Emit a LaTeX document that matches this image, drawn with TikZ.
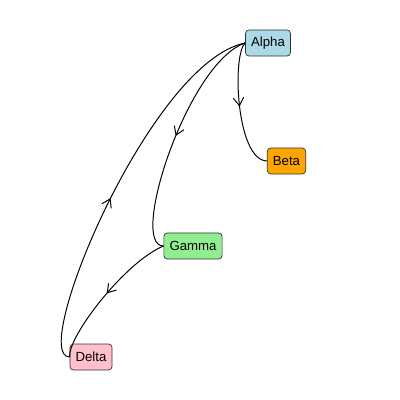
\documentclass[tikz,border=0pt]{standalone}
\usepackage{fontspec}
\setmainfont{Liberation Sans}
\usepackage{tikz}
\usetikzlibrary{arrows.meta}
\usetikzlibrary{decorations.markings}

\begin{document}
\begin{tikzpicture}[x=0.025cm, y=-0.025cm,
        box/.style={draw=black!80, line width=0.5pt, rounded corners=2.5pt, font=\fontsize{9.4}{10}\selectfont, minimum height=0.65cm, inner xsep=4pt},
        link/.style={line width=0.7pt, postaction={decorate}, decoration={markings, mark=at position #1 with {\arrow{Straight Barb[length=2mm,width=2.6mm]}}}},
        link/.default=0.5]
        \useasboundingbox (0,0) rectangle (400,400);
        \node[box, fill={rgb,255:red,173;green,216;blue,230}] at (268,43) (a){Alpha};
        \node[box, fill={rgb,255:red,255;green,165;blue,0}] at (286.5,161) (b){Beta};
        \node[box, fill={rgb,255:red,144;green,238;blue,144}] at (193,246) (c){Gamma};
        \node[box, fill={rgb,255:red,255;green,192;blue,203}] at (91,357) (d){Delta};
        \draw[link] (a.west) .. controls (232,55) and (236,160) .. (b.west);
        \draw[link] (a.west) .. controls (188,62) and (128,246) .. (c.west);
        \draw[link] (c.west) .. controls (125,262) and (68,336) .. (d.west);
        \draw[link=0.45] (d.west) .. controls (28,357) and (150,62) .. (a.west);
      \end{tikzpicture}
\end{document}
